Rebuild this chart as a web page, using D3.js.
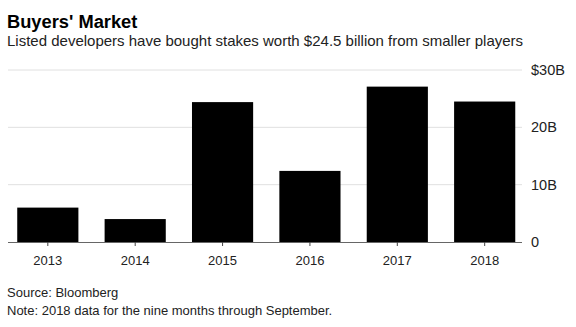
<!DOCTYPE html>
<html>
<head>
<meta charset="utf-8">
<script src="https://cdn.jsdelivr.net/npm/d3@7"></script>
<style>
  body { margin: 0; background: #fff; }
  svg { display: block; font-family: "Liberation Sans", Arial, sans-serif; }
</style>
</head>
<body>
<svg id="chart" width="576" height="327"></svg>
<script>
// Deal value by year, billions of dollars
const years = ['2013', '2014', '2015', '2016', '2017', '2018'];
const values = [6.0, 4.0, 24.4, 12.4, 27.1, 24.5];
const yTicks = [0, 10, 20, 30];
const yTickLabels = ['0', '10B', '20B', '$30B'];

const svg = d3.select('#chart');

// Header text
svg.append('text')
  .attr('x', 7).attr('y', 28)
  .attr('font-size', 18.3)
  .attr('font-weight', 'bold')
  .attr('fill', '#000')
  .text("Buyers' Market");
svg.append('text')
  .attr('x', 7).attr('y', 46)
  .attr('font-size', 15)
  .attr('fill', '#222')
  .text('Listed developers have bought stakes worth $24.5 billion from smaller players');

// Scales
const x = d3.scaleBand()
  .domain(years)
  .range([8.5, 524])
  .paddingInner(0.3)
  .paddingOuter(0.1);
const y = d3.scaleLinear()
  .domain([0, 30])
  .range([242, 70]);

// Gridlines
svg.append('g')
  .selectAll('line')
  .data(yTicks.filter(d => d > 0))
  .join('line')
  .attr('x1', 8).attr('x2', 522)
  .attr('y1', d => y(d)).attr('y2', d => y(d))
  .attr('stroke', '#e0e0e0')
  .attr('stroke-width', 1);

// Right-hand value labels
svg.append('g')
  .selectAll('text')
  .data(yTicks)
  .join('text')
  .attr('x', 531)
  .attr('y', d => y(d))
  .attr('dy', '0.35em')
  .attr('font-size', 14.5)
  .attr('fill', '#222')
  .text((d, i) => yTickLabels[i]);

// Bars
svg.append('g')
  .selectAll('rect')
  .data(years)
  .join('rect')
  .attr('x', d => x(d))
  .attr('width', x.bandwidth())
  .attr('y', (d, i) => y(values[i]))
  .attr('height', (d, i) => y(0) - y(values[i]))
  .attr('fill', '#000');

// Baseline with category ticks
const xAxis = svg.append('g')
  .attr('transform', 'translate(0,' + y(0) + ')')
  .call(d3.axisBottom(x).tickSize(4).tickSizeOuter(0).tickPadding(10));
xAxis.select('.domain')
  .attr('d', 'M8,0.5H522')
  .attr('stroke', '#666');
xAxis.selectAll('.tick line').attr('stroke', '#444');
xAxis.selectAll('.tick text')
  .attr('font-size', 13)
  .attr('font-family', '"Liberation Sans", Arial, sans-serif')
  .attr('fill', '#222');

// Footer
svg.append('text')
  .attr('x', 7).attr('y', 297)
  .attr('font-size', 13)
  .attr('fill', '#222')
  .text('Source: Bloomberg');
svg.append('text')
  .attr('x', 7).attr('y', 315)
  .attr('font-size', 13)
  .attr('fill', '#222')
  .text('Note: 2018 data for the nine months through September.');
</script>
</body>
</html>
